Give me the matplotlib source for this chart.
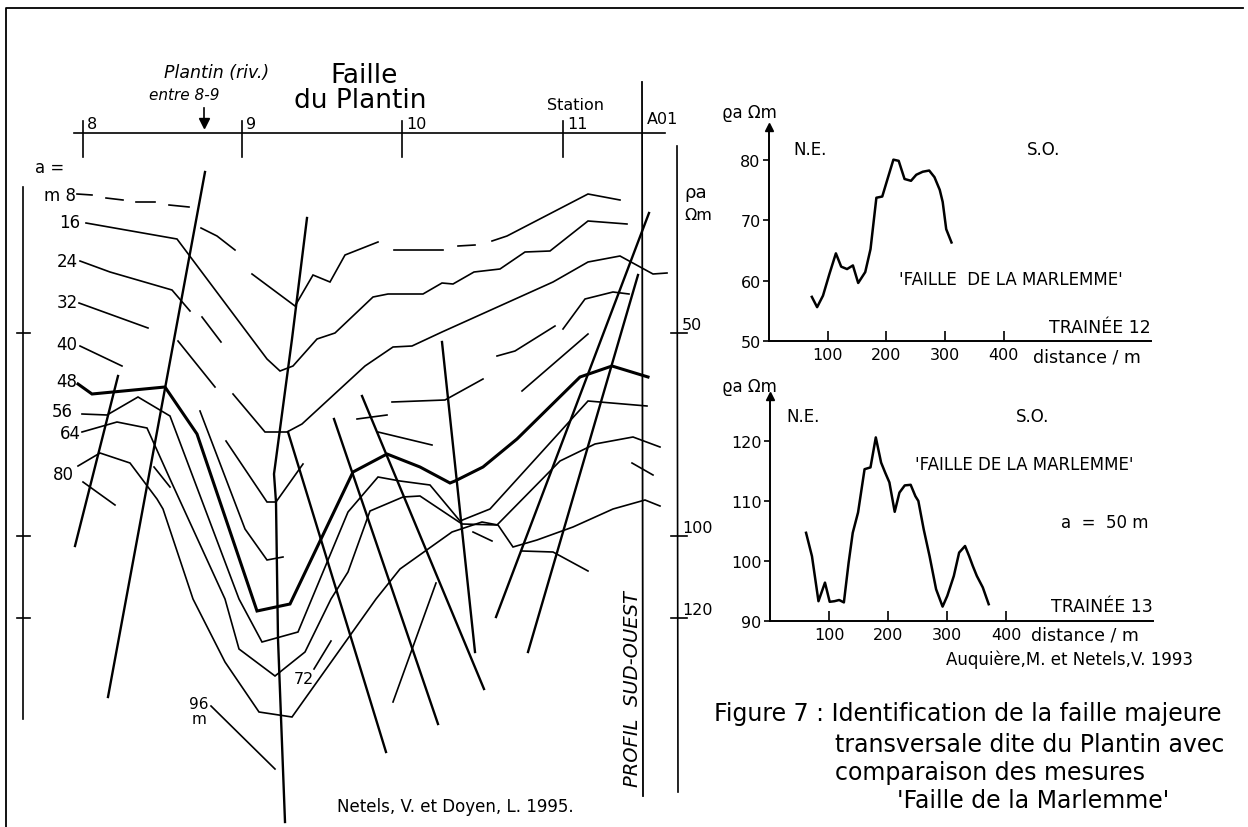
import matplotlib.pyplot as plt
import numpy as np

plt.rcParams['font.family'] = ['DejaVu Sans']

# ---------------- right-hand charts data ----------------
t12_dist = [73, 82, 92, 103, 114, 123, 133, 143, 152, 164, 173, 183, 193, 202, 212, 221,
            231, 242, 251, 262, 273, 282, 291, 296, 302, 311]
t12_rho = [57.3, 55.6, 57.5, 61.1, 64.5, 62.3, 61.9, 62.5, 59.6, 61.4, 65.2, 73.7, 73.9,
           76.8, 80.0, 79.8, 76.8, 76.5, 77.5, 78.0, 78.2, 77.1, 75.0, 73.0, 68.5, 66.3]
t13_dist = [61, 71, 82, 93, 101, 109, 117, 125, 133, 140, 149, 160, 170, 179, 188, 195, 202,
            211, 219, 228, 238, 246, 251, 260, 270, 281, 292, 300, 311, 320, 330, 337, 343,
            350, 360, 370]
t13_rho = [104.7, 100.8, 93.3, 96.4, 93.2, 93.3, 93.5, 93.1, 99.7, 104.7, 108.1, 115.3, 115.6,
           120.6, 116.4, 114.7, 113.1, 108.2, 111.4, 112.6, 112.7, 110.8, 110.0, 105.3, 100.8,
           95.3, 92.4, 94.2, 97.5, 101.4, 102.5, 100.8, 99.2, 97.5, 95.6, 92.8]
dist_ticks = [100, 200, 300, 400]
t12_yticks = [50, 60, 70, 80]
t13_yticks = [90, 100, 110, 120]

# ---------------- left pseudo-section (drawing units = px) ----------------
stations = ['8', '9', '10', '11']
station_x = [83, 242, 402, 563]
scale_vals = ['50', '100', '120']
scale_y = [334, 537, 619]
spacing_labels = ['a =', 'm 8', '16', '24', '32', '40', '48', '56', '64', '80']
spacing_label_xy = [(50, 168), (60, 196), (70, 223), (67, 262), (67, 303), (67, 345),
                    (67, 382), (62, 412), (70, 434), (63, 475)]

line8_dashes = [[(77, 195), (92, 196)], [(106, 199), (123, 201)], [(136, 203), (155, 203)],
                [(169, 206), (189, 208)], [(201, 229), (217, 237), (235, 251)],
                [(252, 275), (295, 307), (313, 276), (330, 283), (345, 256), (378, 243)],
                [(394, 251), (443, 251)], [(458, 247), (475, 246)],
                [(492, 242), (507, 237), (588, 195), (620, 201)]]
line16 = [(86, 224), (177, 240), (267, 360), (280, 372), (293, 367), (317, 340), (335, 334),
          (373, 298), (388, 295), (423, 295), (442, 284), (453, 285), (474, 273), (500, 270),
          (525, 253), (550, 252), (588, 222), (627, 225)]
line24 = [[(80, 262), (110, 273), (172, 291), (190, 312)], [(202, 318), (221, 343)],
          [(233, 395), (265, 433), (287, 433), (302, 425), (365, 367), (393, 348), (412, 347),
           (442, 333), (553, 283), (588, 263), (620, 257), (653, 275), (667, 274)]]
line32 = [[(79, 304), (148, 329)], [(178, 342), (215, 388)],
          [(226, 442), (267, 503), (276, 503), (303, 465)],
          [(392, 403), (445, 401), (483, 380)],
          [(497, 357), (515, 352), (555, 327)],
          [(563, 330), (585, 300), (613, 293), (629, 295)]]
line40 = [[(80, 347), (122, 367)], [(200, 412), (245, 530), (267, 561), (283, 558)],
          [(357, 420), (387, 416)], [(378, 433), (432, 446)],
          [(522, 392), (588, 335)]]
line48 = [(78, 385), (92, 395), (165, 388), (197, 435), (257, 612), (290, 605), (353, 473),
          (387, 455), (420, 468), (450, 484), (455, 482), (483, 468), (517, 440), (580, 378),
          (612, 367), (648, 378)]
line56 = [(82, 415), (107, 416), (138, 398), (170, 417), (239, 600), (262, 643), (298, 633),
          (348, 513), (378, 478), (400, 482), (430, 486), (460, 522), (490, 510), (588, 402),
          (647, 407)]
line64 = [(82, 433), (117, 423), (147, 429), (170, 480), (225, 600), (239, 650), (275, 677),
          (305, 653), (331, 600), (348, 573), (370, 512), (403, 498), (420, 497), (462, 525),
          (497, 526), (560, 462), (595, 445), (633, 438), (660, 448)]
line72 = [[(314, 670), (331, 642)], [(473, 533), (492, 542)], [(632, 464), (653, 476)]]
line80 = [(78, 467), (100, 454), (130, 464), (157, 500), (163, 510), (193, 600), (225, 663),
          (259, 713), (292, 718), (376, 600), (400, 570), (452, 533), (482, 523), (498, 526),
          (513, 548), (537, 541), (573, 528), (613, 510), (645, 501), (660, 507)]
line96 = [[(211, 707), (275, 770)], [(393, 703), (436, 584)]]
extra_segments = [[(83, 483), (115, 506)], [(154, 468), (170, 488)],
                  [(522, 552), (553, 553), (588, 572)]]
faults = [[(118, 377), (75, 547)], [(205, 173), (108, 698)],
          [(307, 219), (292, 340), (274, 475), (276, 503), (278, 640), (285, 823)],
          [(288, 433), (386, 753)], [(334, 420), (438, 725)], [(362, 397), (484, 690)],
          [(442, 343), (475, 653)], [(649, 214), (496, 618)], [(638, 276), (528, 653)]]

W, H = 1248, 828
fig = plt.figure(figsize=(12.48, 8.28), dpi=100)
ax = fig.add_axes([0, 0, 1, 1])
ax.set_xlim(0, W)
ax.set_ylim(H, 0)
ax.axis('off')

K = 'black'
def poly(pts, lw=1.2, **kw):
    xs, ys = zip(*pts)
    ax.plot(xs, ys, color=K, lw=lw, solid_joinstyle='miter', **kw)

# border
ax.plot([6, 6, 1243], [828, 9, 9], color=K, lw=1.3)

# station axis
ax.plot([74, 665], [134, 134], color=K, lw=1.2)
for s, x in zip(stations, station_x):
    ax.plot([x, x], [122, 158], color=K, lw=1.2)
    ax.text(x + 4, 129, s, fontsize=11.5, ha='left', va='baseline')
ax.text(575, 110, 'Station', fontsize=11.5, ha='center', va='baseline')
ax.text(647, 124, 'A01', fontsize=11.5, ha='left', va='baseline')
ax.text(364, 83, 'Faille', fontsize=19, ha='center', va='baseline')
ax.text(360, 108, 'du Plantin', fontsize=19, ha='center', va='baseline')
ax.text(217, 78, 'Plantin (riv.)', fontsize=12.5, style='italic', ha='center', va='baseline')
ax.text(184, 100, 'entre 8-9', fontsize=11, style='italic', ha='center', va='baseline')
ax.plot([204, 204], [109, 122], color=K, lw=1.2)
ax.plot([204], [124], marker='v', color=K, ms=7)

# A01 vertical, scale bars
ax.plot([642, 643], [83, 797], color=K, lw=1.3)
ax.plot([677, 678], [147, 793], color=K, lw=1.2)
ax.plot([23, 23], [188, 720], color=K, lw=1.2)
for v, y in zip(scale_vals, scale_y):
    ax.plot([671, 687], [y, y], color=K, lw=1.2)
    ax.plot([17, 30], [y, y], color=K, lw=1.2)
    ax.text(682, y - 4, v, fontsize=11.5, ha='left', va='baseline')
ax.text(684, 198, '\u03c1a', fontsize=13, ha='left', va='baseline')
ax.text(684, 220, '\u03a9m', fontsize=11.5, ha='left', va='baseline')
ax.text(633, 689, 'PROFIL  SUD-OUEST', fontsize=14, style='italic', rotation=90,
        ha='center', va='center')

for lab, (x, y) in zip(spacing_labels, spacing_label_xy):
    ax.text(x, y, lab, fontsize=12, ha='center', va='center')
ax.text(304, 680, '72', fontsize=11.5, ha='center', va='center')
ax.text(199, 705, '96', fontsize=11, ha='center', va='center')
ax.text(199, 720, 'm', fontsize=11, ha='center', va='center')

for seg in line8_dashes:
    poly(seg)
poly(line16)
for seg in line24:
    poly(seg)
for seg in line32:
    poly(seg)
for seg in line40:
    poly(seg)
poly(line48, lw=2.2)
poly(line56)
poly(line64)
for seg in line72:
    poly(seg)
poly(line80)
for seg in line96:
    poly(seg)
for seg in extra_segments:
    poly(seg)
for seg in faults:
    poly(seg, lw=1.7)

ax.text(455, 807, 'Netels, V. et Doyen, L. 1995.', fontsize=12, ha='center', va='center')

# ---------------- right charts ----------------
def px2fig(x0, y0, x1, y1):
    return [x0 / W, 1 - y1 / H, (x1 - x0) / W, (y1 - y0) / H]

def trail(rect, dist, rho, yticks, ylim, xlim):
    a = fig.add_axes(px2fig(*rect))
    a.plot(dist, rho, color=K, lw=1.8)
    a.set_xlim(*xlim)
    a.set_ylim(*ylim)
    a.patch.set_alpha(0)
    for sp in ['top', 'right']:
        a.spines[sp].set_visible(False)
    for sp in ['left', 'bottom']:
        a.spines[sp].set_linewidth(1.4)
    a.set_xticks(dist_ticks)
    a.set_xticklabels([str(v) for v in dist_ticks])
    a.set_yticks(yticks)
    a.tick_params(axis='x', direction='in', length=7.5, width=1.2, labelsize=11.5, pad=4)
    a.tick_params(axis='y', direction='out', length=4, width=1.2, labelsize=11.5, pad=2)
    a.plot(0, 1, '^', color=K, ms=6, transform=a.transAxes, clip_on=False)
    return a

trail((769, 128, 1151, 342), t12_dist, t12_rho, t12_yticks, (50, 85.4), (0, 651))
trail((770, 397, 1153, 622), t13_dist, t13_rho, t13_yticks, (90, 127.5), (0, 648))

ax.text(722, 118, '\u03f1a \u03a9m', fontsize=12, ha='left', va='baseline')
ax.text(793, 150, 'N.E.', fontsize=12, ha='left', va='center')
ax.text(1027, 150, 'S.O.', fontsize=12, ha='left', va='center')
ax.text(1011, 280, "'FAILLE  DE LA MARLEMME'", fontsize=12, ha='center', va='center')
ax.text(1151, 328, 'TRAINÉE 12', fontsize=12.5, ha='right', va='center')
ax.text(1087, 358, 'distance / m', fontsize=12.5, ha='center', va='center')

ax.text(722, 392, '\u03f1a \u03a9m', fontsize=12, ha='left', va='baseline')
ax.text(786, 417, 'N.E.', fontsize=12, ha='left', va='center')
ax.text(1016, 417, 'S.O.', fontsize=12, ha='left', va='center')
ax.text(1024, 465, "'FAILLE DE LA MARLEMME'", fontsize=12, ha='center', va='center')
ax.text(1105, 523, 'a  =  50 m', fontsize=12, ha='center', va='center')
ax.text(1153, 607, 'TRAINÉE 13', fontsize=12.5, ha='right', va='center')
ax.text(1085, 636, 'distance / m', fontsize=12.5, ha='center', va='center')

ax.text(1070, 660, 'Auquière,M. et Netels,V. 1993', fontsize=12, ha='center', va='center')
cap_fs = 17
ax.text(714, 714, 'Figure 7 : Identification de la faille majeure', fontsize=cap_fs,
        ha='left', va='center')
ax.text(835, 745, 'transversale dite du Plantin avec', fontsize=cap_fs, ha='left', va='center')
ax.text(835, 773, 'comparaison des mesures', fontsize=cap_fs, ha='left', va='center')
ax.text(897, 801, "'Faille de la Marlemme'", fontsize=cap_fs, ha='left', va='center')

fig.savefig('out.png', dpi=100)
